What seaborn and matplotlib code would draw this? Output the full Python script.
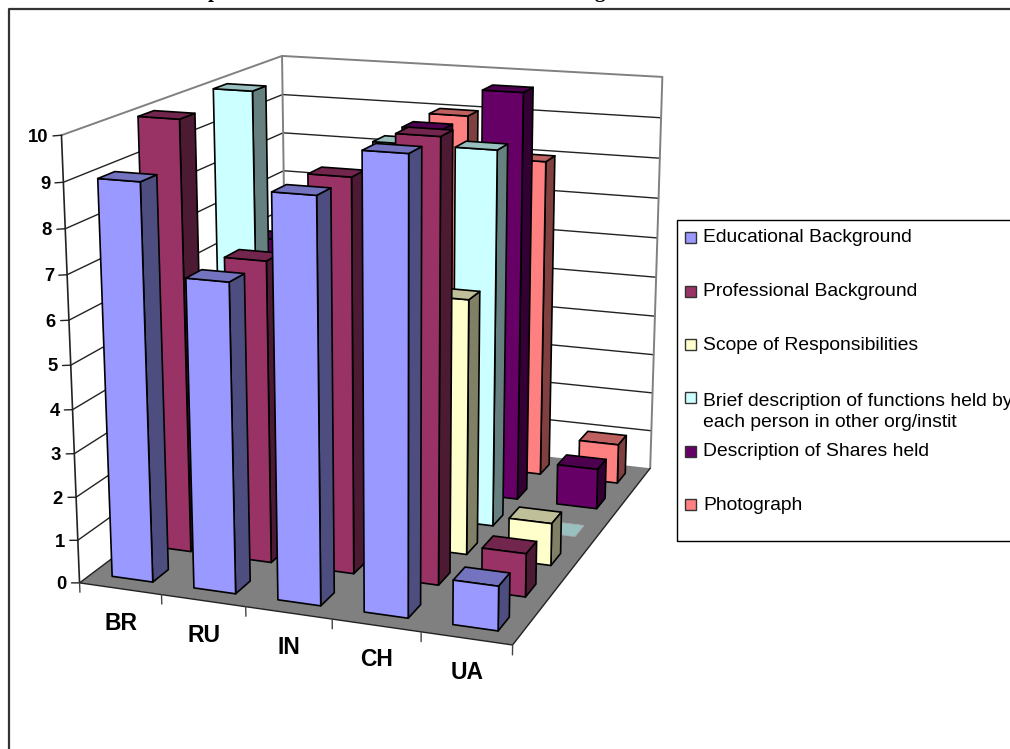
import numpy as np
import pandas as pd
import matplotlib
matplotlib.use("Agg")
import matplotlib.pyplot as plt
from matplotlib.lines import Line2D
from matplotlib.patches import Rectangle
from mpl_toolkits.mplot3d import proj3d
from mpl_toolkits.mplot3d.art3d import Poly3DCollection
import seaborn as sns

# Scores per country for each disclosure item
countries = ["BR", "RU", "IN", "CH", "UA"]
educational = [9, 7, 9, 10, 1]
professional = [10, 7, 9, 10, 1]
scope = [5, 5, 5, 6, 1]
functions = [10, 7, 9, 9, 0]
shares = [6, 7, 9, 10, 1]
photograph = [5, 5, 9, 8, 1]

series_names = [
    "Educational Background",
    "Professional Background",
    "Scope of Responsibilities",
    "Brief description of functions held by\neach person in other org/instit",
    "Description of Shares held",
    "Photograph",
]
series_values = [educational, professional, scope, functions, shares, photograph]
series_colors = ["#9999FF", "#993366", "#FFFFCC", "#CCFFFF", "#660066", "#FF8080"]

data = pd.DataFrame(series_values, index=series_names, columns=countries)

sns.set_theme(style="white", font="Liberation Sans")
palette = sns.color_palette(series_colors)

W, H = 1010, 749
fig = plt.figure(figsize=(W / 100, H / 100), dpi=100, facecolor="white")
ax = fig.add_axes([0, (H - W) / 2 / H, 1, W / H], projection="3d", computed_zorder=False)
ax.set_axis_off()
ax.patch.set_visible(False)
ax.apply_aspect()


def px(x, y):
    return ax.transData.inverted().transform((x, H - y))


# Camera calibration: box corners (category, series, value) and where they fall on the canvas
camera_world = np.array([
    (0, 0, 0), (5, 0, 0), (5, 6, 0), (0, 6, 0), (0, 0, 10), (0, 6, 10), (5, 6, 10),
    (1, 0, 0), (4, 0, 0), (0, 0, 3), (0, 0, 7), (5, 6, 9), (5, 6, 5),
], float)
camera_canvas = np.array([
    (79, 583), (512, 645), (650, 468), (288, 427), (62, 135), (281, 56), (663, 77),
    (161, 595), (421.7, 632), (75, 453), (67, 275), (661, 118), (656, 277),
], float)


def solve_camera():
    rows = []
    for (X, Y, Z), c in zip(camera_world, camera_canvas):
        u, v = px(*c)
        rows.append([X, Y, Z, 1, 0, 0, 0, 0, -u * X, -u * Y, -u * Z, -u])
        rows.append([0, 0, 0, 0, X, Y, Z, 1, -v * X, -v * Y, -v * Z, -v])
    P = np.linalg.svd(np.array(rows, float))[2][-1].reshape(3, 4)
    if P[2, 3] < 0:
        P = -P
    P = P / P[2, 3]
    # Depth grows away from the viewer, which is the order the 3D artists expect
    return np.array([P[0], P[1], [0, 0, 0, -1], P[2]])


projection = solve_camera()
ax.get_proj = lambda: projection
ax.set_xlim(0, 5)
ax.set_ylim(0, 6)
ax.set_zlim(0, 10)


def fig_xy(x, y, z, dx=0.0, dy=0.0):
    """Figure fraction of a point in the chart box, with an offset in pixels (dy downward)."""
    u, v, _ = proj3d.proj_transform(x, y, z, projection)
    disp = ax.transData.transform((u, v))
    return (disp[0] + dx) / W, (disp[1] - dy) / H


n_cat, n_ser = len(countries), len(series_names)
z_top = 10

# Walls and floor
ax.add_collection3d(Poly3DCollection(
    [[(0, 0, 0), (n_cat, 0, 0), (n_cat, n_ser, 0), (0, n_ser, 0)]],
    facecolors="#808080", edgecolors="none", zorder=2))
for z in range(1, z_top):
    ax.plot([0, 0, n_cat], [0, n_ser, n_ser], [z, z, z], color="#222222", lw=1.0, zorder=1)
ax.plot([0, 0, n_cat, n_cat], [0, n_ser, n_ser, n_ser], [z_top, z_top, z_top, 0],
        color="#808080", lw=1.4, zorder=1)
ax.plot([0, 0], [n_ser, n_ser], [0, z_top], color="#808080", lw=1.4, zorder=1)
ax.plot([0, 0, n_cat, n_cat], [n_ser, 0, 0, n_ser], [0, 0, 0, 0], color="#222222", lw=1.0, zorder=3)
ax.plot([0, 0], [0, 0], [0, z_top], color="#222222", lw=1.2, zorder=3)

# Value axis ticks and labels
for z in range(0, z_top + 1):
    ax.plot([-0.1, 0], [0, 0], [z - 0.027, z], color="#222222", lw=1.0, zorder=3)
    tx, ty = fig_xy(0, 0, z, dx=-13, dy=1.8)
    fig.text(tx, ty, str(z), ha="right", va="center", fontsize=13.3, fontweight="bold", color="black")

# Category ticks and labels
for i in range(n_cat + 1):
    ax.plot([i, i], [0, 0], [0, -0.22], color="#444444", lw=1.0, zorder=3)
for i, name in enumerate(countries):
    tx, ty = fig_xy(i + 0.5, 0, 0, dx=0.5, dy=34.5)
    fig.text(tx, ty, name, ha="center", va="center", fontsize=16.5, fontweight="bold", color="black")


def bar_faces(x0, y0, w, d, h):
    x1, y1 = x0 + w, y0 + d
    front = [(x0, y0, 0), (x1, y0, 0), (x1, y0, h), (x0, y0, h)]
    side = [(x1, y0, 0), (x1, y1, 0), (x1, y1, h), (x1, y0, h)]
    top = [(x0, y0, h), (x1, y0, h), (x1, y1, h), (x0, y1, h)]
    return front, side, top


# Columns go back to front and left to right so nearer ones paint over farther ones
order = 10
bar_w, bar_d = 0.5, 0.4
for j in reversed(range(n_ser)):
    base = np.array(palette[j])
    for i in range(n_cat):
        h = data.iloc[j, i]
        faces = bar_faces(i + (1 - bar_w) / 2, j + (1 - bar_d) / 2, bar_w, bar_d, h)
        if h == 0:
            col = Poly3DCollection([faces[2]], facecolors=[base * 0.75], edgecolors="#AAAAAA",
                                   linewidths=0.5, zorder=order)
        else:
            col = Poly3DCollection(list(faces), facecolors=[base, base * 0.5, base * 0.75],
                                   edgecolors="black", linewidths=1.2, zorder=order)
        ax.add_collection3d(col)
        order += 1


def fx(x):
    return x / W


def fy(y):
    return 1 - y / H


# Chart frame, running off the right and bottom of the canvas
fig.add_artist(Line2D([fx(9), fx(9), fx(W + 5)], [fy(H + 5), fy(9), fy(9)], color="#333333", lw=1.6))

# Feet of the title line, whose upper part lies above the canvas
fig.text(fx(214), fy(-2.5), "p", ha="center", va="baseline", fontsize=15, fontweight="bold",
         family="Liberation Serif", color="black")
fig.text(fx(600), fy(-2.5), "g", ha="center", va="baseline", fontsize=15, fontweight="bold",
         family="Liberation Serif", color="black")

# Legend box
fig.add_artist(Rectangle((fx(677), fy(541)), fx(W + 20 - 677), (541 - 220) / H, fill=False,
                         edgecolor="black", lw=1.0))
legend_marks = [237.7, 291, 344, 397.5, 451, 504]
legend_texts = [238, 292, 345, 412, 452, 506]
for name, color, ym, yt in zip(series_names, palette, legend_marks, legend_texts):
    fig.add_artist(Rectangle((fx(685), fy(ym + 5.5)), 11 / W, 11 / H, facecolor=color,
                             edgecolor="#333333", lw=1.0))
    fig.text(fx(703), fy(yt), name, ha="left", va="center", fontsize=13.9, color="black",
             linespacing=1.3)

fig.savefig("out.png", dpi=100)
